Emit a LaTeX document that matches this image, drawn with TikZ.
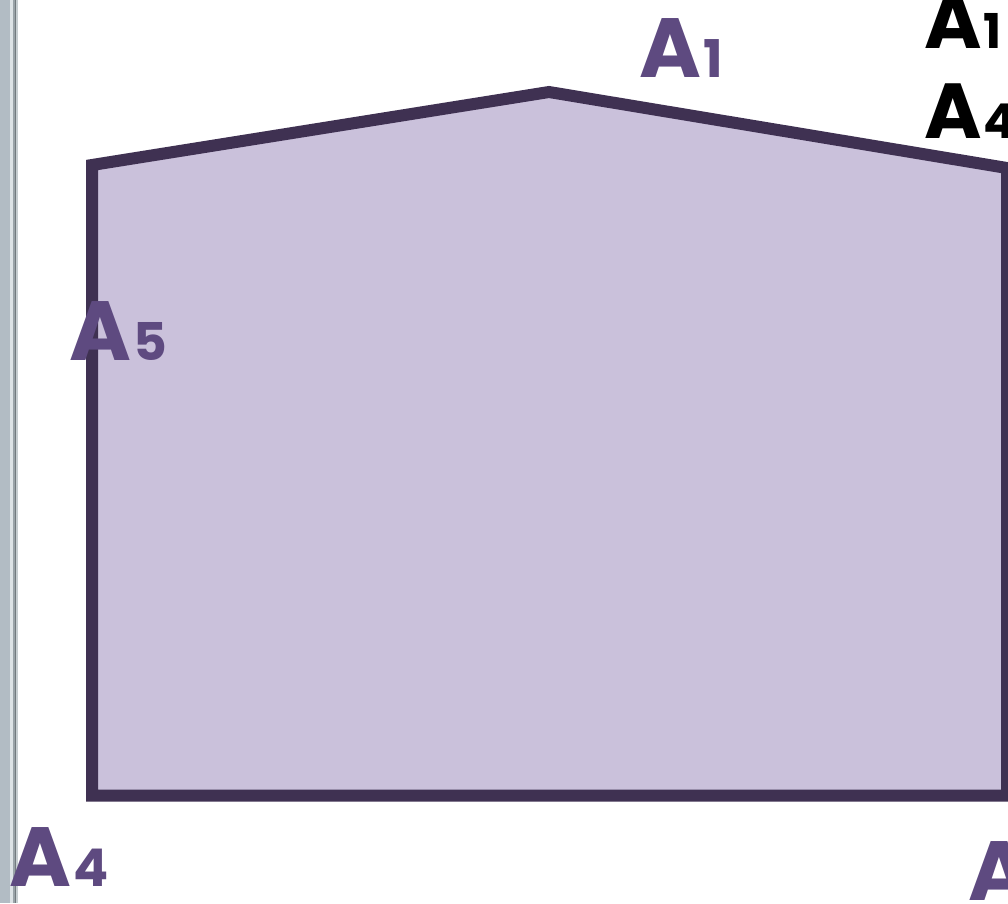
\documentclass[tikz,border=0pt]{standalone}
\usepackage{fontspec}
\newfontfamily\labfont{Poppins}
\definecolor{shapefill}{HTML}{CAC1DB}
\definecolor{shapeline}{HTML}{3F3152}
\definecolor{labpurple}{HTML}{5E4A80}
\definecolor{barA}{HTML}{B2BCC4}
\definecolor{barB}{HTML}{DDE3E6}
\definecolor{barC}{HTML}{9AA3A8}
\definecolor{barD}{HTML}{727A7E}
\definecolor{barE}{HTML}{C6CDD0}
\begin{document}
\begin{tikzpicture}[x=1pt,y=-1pt,
  lab/.style={inner sep=0pt,anchor=base west,font=\labfont\bfseries}]
\useasboundingbox (0,0) rectangle (1008,903);
\fill[white] (0,0) rectangle (1008,903);
% left slide border
\fill[barA] (0,0) rectangle (10,903);
\fill[barB] (10,0) rectangle (12.5,903);
\fill[barC] (12.5,0) rectangle (14.5,903);
\fill[barD] (14.5,0) rectangle (16,903);
\fill[barE] (16,0) rectangle (17.5,903);
% pentagon
\coordinate (p1) at (549,92);
\coordinate (p2) at (1007,168);
\coordinate (p3) at (1007,795.5);
\coordinate (p4) at (92,795.5);
\coordinate (p5) at (92,165);
\draw[fill=shapefill,draw=shapeline,line width=12pt,line join=miter]
  (p1) -- (p2) -- (p3) -- (p4) -- (p5) -- cycle;
% labels
\node[lab,text=labpurple] (lA1) at (639,77) {{\fontsize{84}{84}\selectfont A}\hspace{2pt}{\fontsize{52}{52}\selectfont 1}};
\node[lab,text=labpurple] (lA5) at (69,360) {{\fontsize{84}{84}\selectfont A}\hspace{2pt}{\fontsize{52}{52}\selectfont 5}};
\node[lab,text=labpurple] (lA4) at (9,886) {{\fontsize{84}{84}\selectfont A}\hspace{2pt}{\fontsize{52}{52}\selectfont 4}};
\node[lab,text=labpurple] (lA3) at (968,900) {{\fontsize{84}{84}\selectfont A}};
\node[lab,text=black] (bA1) at (924,48) {{\fontsize{78}{78}\selectfont A}\hspace{2pt}{\fontsize{48}{48}\selectfont 1}};
\node[lab,text=black] (bA4) at (924,138) {{\fontsize{78}{78}\selectfont A}\hspace{2pt}{\fontsize{48}{48}\selectfont 4}};
\end{tikzpicture}
\end{document}
